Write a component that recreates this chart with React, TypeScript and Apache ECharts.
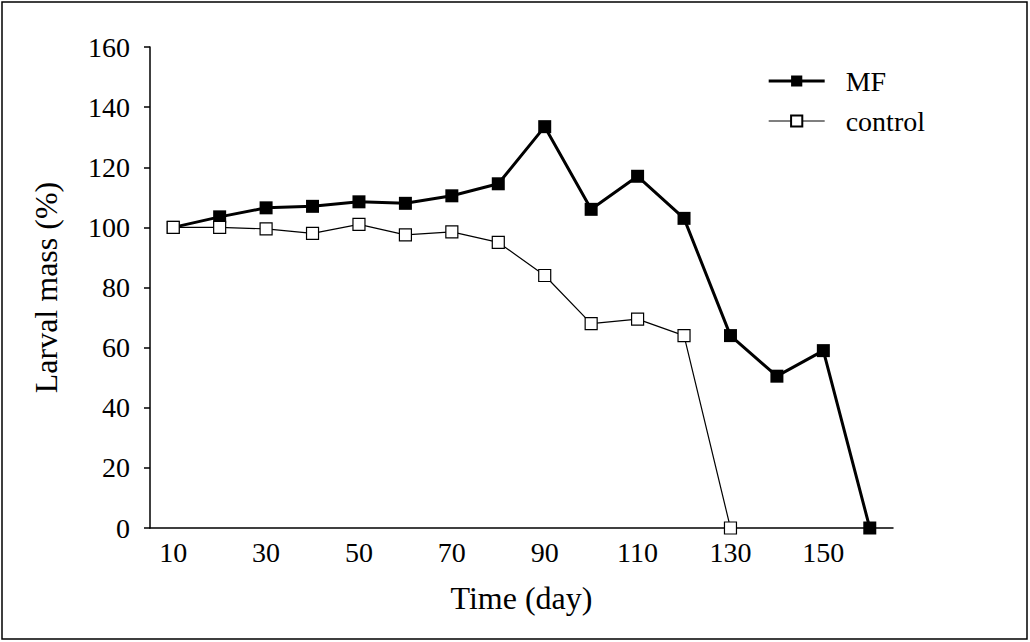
import { useEffect, useRef } from "react";
import * as echarts from "echarts";

const days = ["10", "20", "30", "40", "50", "60", "70", "80", "90", "100", "110", "120", "130", "140", "150", "160"];
const mfValues = [100, 103.5, 106.5, 107, 108.5, 108, 110.5, 114.5, 133.5, 106, 117, 103, 64, 50.5, 59, 0];
const controlValues = [100, 100, 99.5, 98, 101, 97.5, 98.5, 95, 84, 68, 69.5, 64, 0, null, null, null];

const font = "'Liberation Serif', 'Times New Roman', serif";

export default function App() {
  const chartRef = useRef(null);

  useEffect(() => {
    document.body.style.margin = "0";
    const chart = echarts.init(chartRef.current, null, { renderer: "svg" });

    chart.setOption({
      animation: false,
      backgroundColor: "#fff",
      textStyle: { fontFamily: font, color: "#000" },
      graphic: [
        {
          type: "rect",
          shape: { x: 2, y: 2, width: 1025, height: 637 },
          style: { fill: "none", stroke: "#000", lineWidth: 1.5 },
        },
      ],
      grid: { left: 150, right: 137, top: 47, bottom: 114 },
      legend: {
        right: 100,
        top: 62,
        orient: "vertical",
        itemWidth: 56,
        itemHeight: 14,
        itemGap: 12,
        textStyle: { fontFamily: font, fontSize: 28, color: "#000", padding: [0, 0, 0, 16] },
        data: [
          { name: "MF", lineStyle: { width: 3, color: "#000" } },
          { name: "control", lineStyle: { width: 1.2, color: "#000" } },
        ],
      },
      xAxis: {
        type: "category",
        data: days,
        boundaryGap: true,
        name: "Time (day)",
        nameLocation: "middle",
        nameGap: 54,
        nameTextStyle: { fontFamily: font, fontSize: 32, color: "#000" },
        axisLine: { lineStyle: { color: "#000", width: 1.5 } },
        axisTick: { alignWithLabel: true, interval: 0, length: 6, lineStyle: { color: "#000", width: 1.5 } },
        axisLabel: { interval: 1, fontFamily: font, fontSize: 28, color: "#000", margin: 10 },
      },
      yAxis: {
        type: "value",
        min: 0,
        max: 160,
        interval: 20,
        name: "Larval mass (%)",
        nameLocation: "middle",
        nameGap: 88,
        nameTextStyle: { fontFamily: font, fontSize: 32, color: "#000" },
        splitLine: { show: false },
        axisLine: { show: true, lineStyle: { color: "#000", width: 1.5 } },
        axisTick: { show: true, length: 6, lineStyle: { color: "#000", width: 1.5 } },
        axisLabel: { fontFamily: font, fontSize: 28, color: "#000", margin: 20 },
      },
      series: [
        {
          name: "MF",
          type: "line",
          data: mfValues,
          symbol: "rect",
          symbolSize: 13,
          lineStyle: { color: "#000", width: 3 },
          itemStyle: { color: "#000" },
        },
        {
          name: "control",
          type: "line",
          data: controlValues,
          symbol: "rect",
          symbolSize: 12,
          lineStyle: { color: "#000", width: 1.2 },
          itemStyle: { color: "#fff", borderColor: "#000", borderWidth: 1.2 },
        },
      ],
    });

    return () => {
      chart.dispose();
    };
  }, []);

  return <div ref={chartRef} style={{ width: "1030px", height: "642px" }} />;
}
